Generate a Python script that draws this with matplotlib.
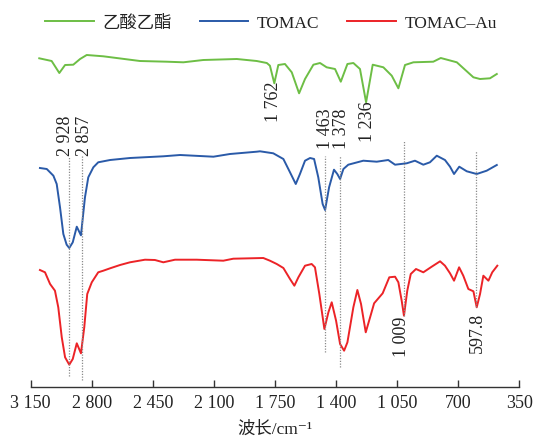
import matplotlib
matplotlib.use("Agg")
import matplotlib.pyplot as plt

plt.rcParams['font.family'] = ['Liberation Serif', 'DejaVu Serif', 'Noto Sans CJK SC']

# ---- data (wavenumber in cm^-1, transmittance in arbitrary offset units) ----
series_names = ['乙酸乙酯', 'TOMAC', 'TOMAC–Au']
series_colors = ['#6dbe45', '#2a5aa8', '#ec2327']

ea_wn = [3101, 3030, 2986, 2953, 2906, 2867, 2829, 2734, 2524, 2371, 2275, 2161,
         1969, 1855, 1797, 1779, 1754, 1731, 1693, 1654, 1612, 1578, 1530, 1492,
         1454, 1406, 1373, 1335, 1301, 1263, 1228, 1190, 1129, 1081, 1043, 1005,
         957, 843, 800, 708, 613, 575, 518, 479]
ea_t = [328.4, 325.7, 313.7, 321.7, 322.0, 327.7, 331.7, 330.4, 325.7, 325.0, 324.4, 326.7,
        327.7, 325.7, 323.7, 321.0, 303.4, 321.7, 322.7, 314.4, 293.4, 307.7, 322.0, 323.7,
        319.4, 317.7, 305.0, 322.7, 323.7, 317.7, 284.4, 322.0, 319.4, 311.0, 298.4, 321.7,
        324.4, 325.0, 328.7, 324.4, 309.4, 307.7, 308.4, 312.7]

tomac_wn = [3097, 3058, 3020, 3001, 2982, 2963, 2944, 2929, 2909, 2886, 2862, 2839,
            2820, 2791, 2763, 2695, 2581, 2390, 2294, 2103, 2008, 1855, 1836, 1760,
            1702, 1664, 1631, 1607, 1578, 1549, 1526, 1502, 1477, 1463, 1440, 1412,
            1393, 1377, 1358, 1330, 1244, 1167, 1101, 1062, 995, 948, 900, 862,
            823, 776, 747, 724, 694, 651, 594, 537, 479]
tomac_t = [218.7, 217.7, 211.0, 202.7, 179.4, 152.7, 142.0, 138.7, 144.4, 160.0, 151.4, 189.4,
           209.4, 219.4, 224.4, 226.7, 228.7, 230.4, 231.7, 230.0, 232.7, 235.0, 235.4, 233.4,
           227.7, 214.4, 202.7, 212.7, 226.0, 228.7, 227.7, 209.4, 182.7, 176.7, 199.4, 217.0,
           212.7, 207.7, 217.7, 222.0, 226.0, 225.0, 226.7, 222.0, 223.4, 226.0, 222.0, 224.4,
           231.0, 226.7, 220.0, 212.7, 220.0, 215.4, 212.7, 216.0, 221.7]

au_wn = [3097, 3068, 3039, 3011, 2992, 2972, 2953, 2929, 2909, 2886, 2862, 2843,
         2826, 2800, 2763, 2734, 2695, 2638, 2581, 2495, 2438, 2390, 2323, 2199,
         2046, 1989, 1817, 1779, 1740, 1702, 1664, 1639, 1616, 1578, 1540, 1521,
         1496, 1467, 1444, 1425, 1400, 1377, 1354, 1335, 1301, 1278, 1257, 1230,
         1205, 1182, 1133, 1095, 1062, 1043, 1024, 1011, 992, 972, 942, 900,
         852, 804, 776, 747, 724, 695, 671, 642, 613, 594, 575, 556,
         527, 505, 476]
au_t = [116.7, 114.4, 102.7, 96.0, 79.4, 49.4, 29.4, 22.0, 27.7, 43.4, 33.4, 59.4,
        92.7, 104.4, 114.4, 116.0, 118.4, 121.7, 124.4, 127.0, 126.7, 124.4, 127.0, 127.0,
        126.0, 128.0, 128.7, 126.0, 122.7, 118.7, 107.7, 101.0, 109.4, 121.0, 122.7, 119.4,
        92.7, 57.7, 74.4, 84.4, 66.0, 42.7, 36.0, 44.4, 79.4, 96.7, 82.7, 54.4,
        69.4, 83.4, 93.4, 109.4, 110.0, 104.4, 86.0, 71.0, 96.0, 112.7, 117.7, 114.4,
        120.0, 125.4, 121.0, 113.4, 106.0, 119.4, 111.0, 97.7, 95.4, 79.4, 92.7, 111.0,
        106.0, 114.4, 121.0]

# marker lines (dotted) at assigned peaks
vline_wn = [2928, 2857, 1463, 1378, 1009, 597.8]
vline_top = [230.7, 230.7, 230.7, 230.7, 245.7, 235.7]
vline_bottom = [10.7, 7.2, 34.7, 20.2, 70.7, 79.7]

# peak labels
peak_labels = ['2 928', '2 857', '1 762', '1 463', '1 378', '1 236', '1 009', '597.8']
peak_label_wn = [2948, 2842, 1760, 1463, 1368, 1219, 1024, 590]
peak_label_t = [251.7, 251.7, 285.7, 259.2, 259.2, 265.7, 51.2, 55.2]

xticks = [3150, 2800, 2450, 2100, 1750, 1400, 1050, 700, 350]
xtick_labels = ['3 150', '2 800', '2 450', '2 100', '1 750', '1 400', '1 050', '700', '350']

# ---- figure ----
W, H = 534, 439
fig = plt.figure(figsize=(W / 100, H / 100), dpi=100)
ax_left, ax_right, ax_bottom_px = 30.7, 519.3, 387.7
ax = fig.add_axes([ax_left / W, (H - ax_bottom_px) / H, (ax_right - ax_left) / W, ax_bottom_px / H])

lines = []
for wn, t, name, c in zip([ea_wn, tomac_wn, au_wn], [ea_t, tomac_t, au_t], series_names, series_colors):
    ln, = ax.plot(wn, t, color=c, lw=1.4, label=name, solid_joinstyle='round')
    lines.append(ln)

for x, top, bot in zip(vline_wn, vline_top, vline_bottom):
    ax.plot([x, x], [bot, top], color='#8a8a8a', lw=0.9, ls=(0, (1, 1.2)))

for s, x, y in zip(peak_labels, peak_label_wn, peak_label_t):
    ax.text(x, y, s, rotation=90, ha='center', va='center', fontsize=13, color='#222222')

ax.set_xlim(3150, 350)
ax.set_ylim(0, ax_bottom_px)
for sp in ['left', 'right', 'top']:
    ax.spines[sp].set_visible(False)
ax.spines['bottom'].set_color('#333333')
ax.spines['bottom'].set_linewidth(1.0)
ax.set_yticks([])
ax.set_xticks(xticks)
ax.set_xticklabels(xtick_labels, fontsize=13, color='#222222')
ax.tick_params(axis='x', direction='in', length=5, width=1.0, color='#333333', pad=5)
ax.patch.set_alpha(0)

fig.text(275 / W, 1 - 430 / H, '波长/cm⁻¹', ha='center', va='center', fontsize=12.5, color='#222222')

fig.legend(handles=lines, labels=series_names, loc='center', bbox_to_anchor=(271 / W, 1 - 24 / H),
           ncol=3, frameon=False, fontsize=12.5, handlelength=2.8, handletextpad=0.5,
           columnspacing=1.6, labelcolor='#222222')

fig.savefig('out.png', dpi=100)
